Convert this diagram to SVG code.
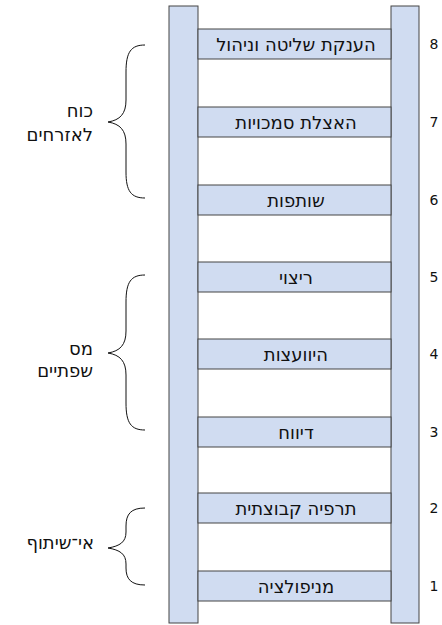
<svg xmlns="http://www.w3.org/2000/svg" width="442" height="625" viewBox="0 0 442 625">
<style>
.rail{fill:#d0dcf1;stroke:#444;stroke-width:1}
.rung{fill:#d0dcf1;stroke:#444;stroke-width:1}
.lbl{font-family:"DejaVu Sans",sans-serif;font-size:18px;fill:#111;text-anchor:middle}
.num{font-family:"DejaVu Sans",sans-serif;font-size:14px;fill:#111;text-anchor:middle}
.grp{font-family:"DejaVu Sans",sans-serif;font-size:18px;fill:#111;text-anchor:end}
.brace{fill:none;stroke:#111;stroke-width:1}
</style>
<rect width="442" height="625" fill="#fff"/>
<g id="rails">
<rect class="rail" x="169" y="6" width="29" height="617"/>
<rect class="rail" x="391" y="6" width="28" height="617"/>
</g>
<g id="rung8"><rect class="rung" x="198" y="29" width="193" height="30"/><text class="lbl" x="296" y="50.5">הענקת שליטה וניהול</text><text class="num" x="434" y="49">8</text></g>
<g id="rung7"><rect class="rung" x="198" y="107" width="193" height="30"/><text class="lbl" x="296" y="128.5">האצלת סמכויות</text><text class="num" x="434" y="127">7</text></g>
<g id="rung6"><rect class="rung" x="198" y="185" width="193" height="30"/><text class="lbl" x="296" y="206.5">שותפות</text><text class="num" x="434" y="205">6</text></g>
<g id="rung5"><rect class="rung" x="198" y="262" width="193" height="30"/><text class="lbl" x="296" y="283.5">ריצוי</text><text class="num" x="434" y="282">5</text></g>
<g id="rung4"><rect class="rung" x="198" y="339" width="193" height="30"/><text class="lbl" x="296" y="360.5">היוועצות</text><text class="num" x="434" y="359">4</text></g>
<g id="rung3"><rect class="rung" x="198" y="417" width="193" height="30"/><text class="lbl" x="296" y="438.5">דיווח</text><text class="num" x="434" y="437">3</text></g>
<g id="rung2"><rect class="rung" x="198" y="493" width="193" height="30"/><text class="lbl" x="296" y="514.5">תרפיה קבוצתית</text><text class="num" x="434" y="513">2</text></g>
<g id="rung1"><rect class="rung" x="198" y="571" width="193" height="30"/><text class="lbl" x="296" y="592.5">מניפולציה</text><text class="num" x="434" y="591">1</text></g>
<g id="group-citizen-power">
<path class="brace" d="M145,45 C131,45 126,52 126,72 L126,100 C126,114 120,120 108,122 C120,124 126,130 126,144 L126,172 C126,191 131,198 145,198"/>
<text class="grp" x="93" y="117">כוח</text>
<text class="grp" x="93" y="141">לאזרחים</text>
</g>
<g id="group-tokenism">
<path class="brace" d="M145,275 C131,275 126,282 126,302 L126,331 C126,345 120,351 108,353 C120,355 126,361 126,375 L126,403 C126,423 131,430 145,430"/>
<text class="grp" x="93" y="355">מס</text>
<text class="grp" x="93" y="377">שפתיים</text>
</g>
<g id="group-nonparticipation">
<path class="brace" d="M145,508 C131,508 126,514 126,526 L126,532 C126,542 120,546 108,548 C120,550 126,554 126,564 L126,568 C126,579 131,585 145,585"/>
<text class="grp" x="94" y="549">אי־שיתוף</text>
</g>
</svg>
